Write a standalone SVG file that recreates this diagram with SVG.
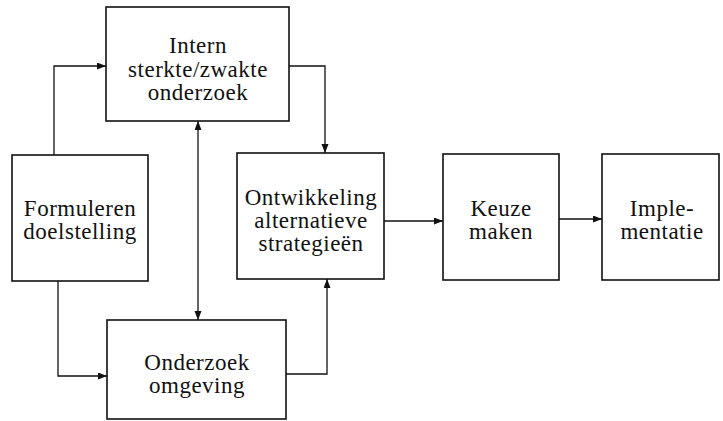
<svg xmlns="http://www.w3.org/2000/svg" width="723" height="421" viewBox="0 0 723 421">
<defs>
<style>
.box{fill:#fff;stroke:#111;stroke-width:1.6}
.lbl{font-family:"Liberation Serif","Times New Roman",serif;font-size:23px;letter-spacing:0.5px;fill:#111;text-anchor:middle}
.con{fill:none;stroke:#111;stroke-width:1.3}
</style>
<marker id="ah" markerUnits="userSpaceOnUse" markerWidth="10" markerHeight="8" refX="9" refY="3.5" orient="auto-start-reverse">
<path d="M0,0 L9,3.5 L0,7 z" fill="#111"/>
</marker>
</defs>
<rect width="723" height="421" fill="#fff"/>
<g id="connectors">
<path class="con" d="M54,155 V66 H106" marker-end="url(#ah)"/>
<path class="con" d="M289,66 H325 V153" marker-end="url(#ah)"/>
<path class="con" d="M198,121 V320" marker-start="url(#ah)" marker-end="url(#ah)"/>
<path class="con" d="M58,281 V376 H107" marker-end="url(#ah)"/>
<path class="con" d="M286,374 H327 V279" marker-end="url(#ah)"/>
<path class="con" d="M384,221 H443" marker-end="url(#ah)"/>
<path class="con" d="M559,219 H602" marker-end="url(#ah)"/>
</g>
<g id="intern">
<rect class="box" x="106" y="7" width="183" height="114"/>
<text class="lbl" x="198" y="53">Intern</text>
<text class="lbl" x="198" y="77">sterkte/zwakte</text>
<text class="lbl" x="198" y="100">onderzoek</text>
</g>
<g id="formuleren">
<rect class="box" x="12" y="155" width="136" height="126"/>
<text class="lbl" x="80" y="216">Formuleren</text>
<text class="lbl" x="80" y="239">doelstelling</text>
</g>
<g id="ontwikkeling">
<rect class="box" x="237" y="153" width="147" height="126"/>
<text class="lbl" x="311" y="205">Ontwikkeling</text>
<text class="lbl" x="311" y="228">alternatieve</text>
<text class="lbl" x="311" y="251">strategieën</text>
</g>
<g id="keuze">
<rect class="box" x="443" y="154" width="116" height="126"/>
<text class="lbl" x="501" y="216">Keuze</text>
<text class="lbl" x="501" y="239">maken</text>
</g>
<g id="implementatie">
<rect class="box" x="602" y="154" width="117" height="126"/>
<text class="lbl" x="662" y="216">Imple-</text>
<text class="lbl" x="662" y="239">mentatie</text>
</g>
<g id="omgeving">
<rect class="box" x="107" y="320" width="179" height="99"/>
<text class="lbl" x="197" y="370">Onderzoek</text>
<text class="lbl" x="197" y="393">omgeving</text>
</g>
</svg>
